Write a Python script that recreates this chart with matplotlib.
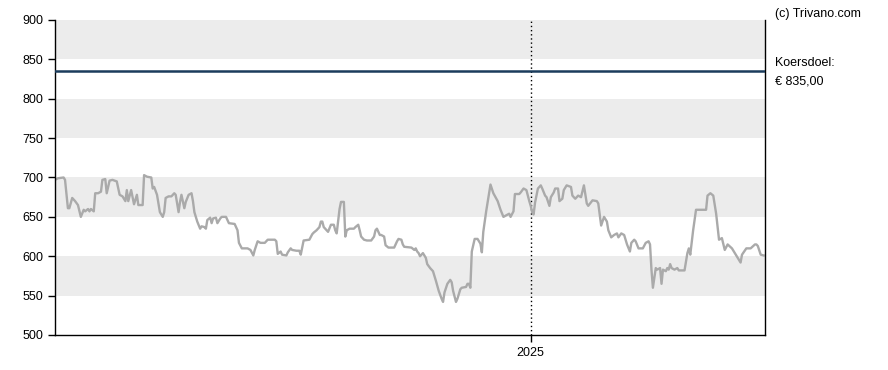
import matplotlib
matplotlib.use("Agg")
import matplotlib.pyplot as plt
import matplotlib.dates as mdates
import pandas as pd

# koersdata (dagen sinds startdatum, slotkoers)
start_date = "2024-02-05"
day_offsets = [
    0, 2, 6, 7, 9, 10, 12, 14, 16, 18, 20, 21, 23, 24, 25, 27, 28, 30, 32, 33,
    35, 36, 38, 40, 43, 45, 47, 49, 50, 51, 53, 55, 57, 58, 61, 62, 64, 67, 68, 69,
    71, 73, 75, 76, 77, 79, 81, 83, 84, 86, 87, 88, 90, 91, 93, 95, 96, 97,
    99, 101, 102, 104, 105, 106, 108, 109, 110, 112, 113, 115, 116, 119, 121, 125, 127, 128,
    130, 134, 136, 138, 139, 141, 143, 146, 148, 153, 154, 155, 157, 158, 161, 162, 164, 165,
    168, 170, 171, 173, 177, 179, 180, 182, 184, 185, 186, 187, 190, 192, 194, 195, 196,
    198, 199, 201, 202, 203, 205, 208, 209, 211, 212, 213, 215, 217, 220, 222, 223, 224, 226,
    227, 229, 230, 232, 236, 238, 239, 241, 242, 243, 248, 250, 251, 252, 253, 254, 256, 257,
    258, 259, 261, 263, 264, 265, 267, 269, 270, 271, 273, 275, 276, 277, 279, 280, 282, 283,
    286, 287, 288, 289, 290,
    292, 294, 296, 297, 298, 300, 303, 305, 308, 310, 312, 314, 316, 317, 319, 320, 323, 324,
    326, 328, 330, 331, 332, 333, 334, 336, 338, 339, 341, 342, 344, 345, 347, 348, 350, 351,
    353, 354, 356, 359, 360, 362, 364, 366, 368, 370, 371, 374, 377, 378, 380, 382, 384, 385,
    387, 389, 391, 392,
    394, 396, 398, 400, 401, 403, 404, 406, 409, 411, 413, 414, 415, 416, 418, 419, 421, 422,
    423, 425, 426, 427, 428, 429, 431, 433, 434, 438, 440, 441, 442, 444, 446, 453, 454, 456,
    458, 460, 462, 464, 466, 468, 471, 473, 475, 477, 478, 481, 484, 487, 488, 489, 491, 493,
]
prices = [
    697, 699, 700, 697, 661, 661, 674, 670, 665, 650, 659, 657, 660, 657, 660, 657, 680, 680, 682, 697,
    698, 680, 696, 697, 695, 678, 676, 670, 684, 670, 684, 666, 678, 665, 665, 703, 701, 700, 686, 688,
    678, 656, 650, 656, 674, 676, 676, 680, 678, 656, 669, 678, 661, 669, 678, 680, 670, 656,
    644, 635, 638, 637, 635, 646, 649, 642, 648, 649, 642, 648, 650, 650, 642, 641, 633, 617,
    610, 610, 608, 601, 608, 619, 617, 617, 621, 621, 619, 603, 606, 602, 601, 605, 610, 608,
    607, 607, 602, 620, 621, 628, 630, 633, 637, 644, 644, 637, 631, 640, 640, 633, 629,
    660, 669, 669, 625, 633, 635, 635, 637, 640, 633, 625, 621, 620, 620, 625, 633, 635, 627,
    627, 625, 614, 611, 611, 619, 622, 621, 615, 612, 611, 608, 610, 606, 604, 600, 604, 601,
    598, 590, 585, 581, 575, 569, 556, 546, 542, 554, 565, 570, 567, 556, 542, 546, 558, 560,
    561, 565, 565, 560, 606,
    622, 622, 616, 605, 631, 657, 691, 680, 670, 659, 650, 652, 654, 650, 657, 679, 679, 681,
    686, 684, 670, 664, 656, 653, 668, 686, 690, 686, 677, 675, 664, 675, 681, 686, 686, 670,
    673, 684, 690, 688, 677, 673, 677, 675, 690, 667, 664, 671, 670, 667, 639, 650, 644, 633,
    624, 627, 629, 624,
    629, 627, 615, 606, 617, 621, 619, 610, 610, 617, 619, 615, 583, 560, 585, 583, 585, 565,
    583, 581, 585, 583, 590, 585, 583, 585, 582, 582, 604, 610, 602, 633, 659, 659, 677, 680,
    677, 654, 621, 623, 608, 615, 610, 604, 598, 592, 602, 610, 610, 615, 615, 613, 602, 601,
]
koersdoel = 835.00
koersdoel_label = "€ 835,00"
y_ticks = [500, 550, 600, 650, 700, 750, 800, 850, 900]
grey_bands = [(550, 600), (650, 700), (750, 800), (850, 900)]

plt.rcParams["font.family"] = ["Liberation Sans", "DejaVu Sans"]

dates = pd.Timestamp(start_date) + pd.to_timedelta(day_offsets, unit="D")
year_mark = pd.Timestamp("2025-01-01")

fig = plt.figure(figsize=(8.88, 3.70), dpi=100)
ax = fig.add_axes([0.0619, 0.0946, 0.7996, 0.8514])

# grijze banden achter de grafiek
for lo, hi in grey_bands:
    ax.axhspan(lo, hi, color="#ececec", lw=0, zorder=0)

ax.axvline(year_mark, color="black", linestyle=(0, (1, 2)), lw=1, zorder=1)
ax.plot(dates, prices, color="#aaaaaa", lw=1.7, zorder=2)
ax.axhline(koersdoel, color="#1b3c5c", lw=1.8, zorder=3)

ax.set_xlim(dates[0], dates[-1] + pd.Timedelta(days=1))
ax.set_ylim(500, 900)
ax.set_yticks(y_ticks)
ax.set_xticks([year_mark])
ax.xaxis.set_major_formatter(mdates.DateFormatter("%Y"))
ax.tick_params(axis="both", direction="out", length=5, width=1, labelsize=9, colors="black")

ax.spines["top"].set_visible(False)
for side in ["left", "bottom", "right"]:
    ax.spines[side].set_color("black")
    ax.spines[side].set_linewidth(1)

fig.text(0.873, 0.978, "(c) Trivano.com", fontsize=9, va="top", ha="left")
fig.text(0.873, 0.83, "Koersdoel:", fontsize=9, va="center", ha="left")
fig.text(0.873, 0.78, koersdoel_label, fontsize=9, va="center", ha="left")

fig.savefig("out.png", dpi=100)
